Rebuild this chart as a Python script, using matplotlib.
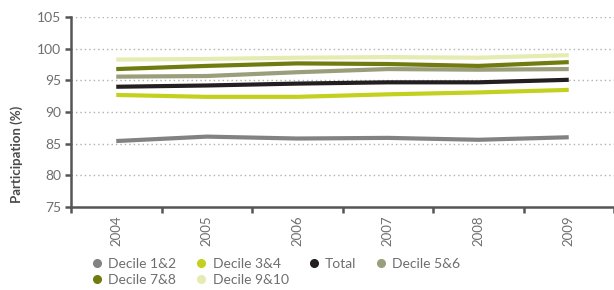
import matplotlib
matplotlib.use("Agg")
import matplotlib.pyplot as plt
from matplotlib.lines import Line2D

years = ["2004", "2005", "2006", "2007", "2008", "2009"]
decile_1_2 = [85.4, 86.1, 85.8, 85.9, 85.6, 86.0]
decile_3_4 = [92.7, 92.4, 92.4, 92.8, 93.1, 93.5]
total = [94.0, 94.2, 94.5, 94.7, 94.7, 95.1]
decile_5_6 = [95.6, 95.7, 96.3, 96.8, 96.7, 96.8]
decile_7_8 = [96.8, 97.3, 97.7, 97.6, 97.3, 97.9]
decile_9_10 = [98.3, 98.4, 98.6, 98.7, 98.6, 99.0]

series_names = ["Decile 1&2", "Decile 3&4", "Total", "Decile 5&6", "Decile 7&8", "Decile 9&10"]
series_values = [decile_1_2, decile_3_4, total, decile_5_6, decile_7_8, decile_9_10]
colors = ["#828285", "#c3d01e", "#231f20", "#9a9e7a", "#717c10", "#e6ebb2"]

plt.rcParams['font.family'] = ['Lato', 'DejaVu Sans']

fig = plt.figure(figsize=(6.14, 2.90), dpi=100)
ax = fig.add_axes([71/614, (290-206.7)/290, 1 - 71/614, (206.7-17.3)/290])

x = list(range(len(years)))
for name, vals, c in zip(series_names, series_values, colors):
    ax.plot(x, vals, color=c, lw=3.0, solid_capstyle='butt', label=name)

ax.set_ylim(75, 105)
ax.set_xlim(-0.5, (614 - 71) / 92 - 0.5)
ax.set_yticks([75, 80, 85, 90, 95, 100, 105])
for yv in [80, 85, 90, 95, 100, 105]:
    ax.axhline(yv, color="#b0b0b0", lw=1.0, ls=(0, (1, 2.2)), zorder=0)

ax.set_xticks(x)
ax.set_xticklabels(years, rotation=90)
ax.set_xticks([i + 0.5 for i in range(-1, len(years))], minor=True)
ax.tick_params(axis='x', which='major', length=0, pad=6, labelsize=9.5, labelcolor="#6e6e6e")
ax.tick_params(axis='x', which='minor', length=4, width=1.8, color="#555555", direction='out')
ax.tick_params(axis='y', length=4, width=1.8, color="#555555", labelsize=10, labelcolor="#6e6e6e", pad=3)

for s in ['top', 'right']:
    ax.spines[s].set_visible(False)
for s in ['left', 'bottom']:
    ax.spines[s].set_color("#555555")
    ax.spines[s].set_linewidth(1.8)

ax.set_ylabel("Participation (%)", fontsize=9.5, fontweight='bold', color="#4a4a4a")
ax.yaxis.set_label_coords(-0.088, 0.277)

handles = [Line2D([], [], color=c, marker='o', ls='none', markersize=5.5) for c in colors]
order = [0, 4, 1, 5, 2, 3]
leg = fig.legend([handles[i] for i in order], [series_names[i] for i in order],
                 ncol=4, loc='upper left', bbox_to_anchor=(93/614, 1 - 258/290),
                 frameon=False, fontsize=10, handlelength=0.6, handletextpad=0.5,
                 columnspacing=1.5, labelspacing=0.3, borderaxespad=0, borderpad=0,
                 labelcolor="#6e6e6e")

fig.savefig("out.png", dpi=100)
